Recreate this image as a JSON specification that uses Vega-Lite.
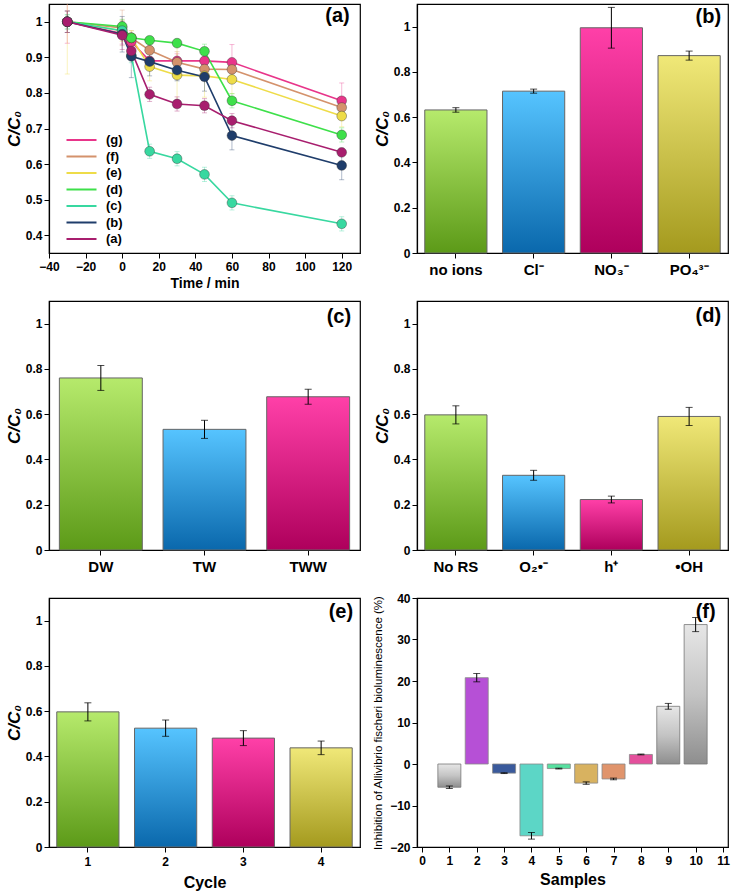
{
  "$schema": "https://vega.github.io/schema/vega-lite/v6.json",
  "padding": {"left": 4, "top": 3, "right": 2, "bottom": 2},
  "background": "white",
  "config": {
    "font": "Liberation Sans",
    "view": {"stroke": "black", "strokeWidth": 1.2},
    "style": {"cell": {"stroke": "black", "strokeWidth": 1.2}},
    "axis": {"labelFont": "Liberation Sans", "labelFontWeight": "bold", "labelFontSize": 12, "labelColor": "black", "titleFont": "Liberation Sans", "titleFontWeight": "bold", "titleColor": "black", "domainColor": "black", "domainWidth": 1.2, "tickColor": "black", "tickSize": 5, "grid": false, "labelPadding": 2, "labelFlush": false, "labelOverlap": false},
    "text": {"font": "Liberation Sans", "fontSize": 20, "fontWeight": "bold", "color": "black"}
  },
  "datasets": {
    "kin": [
      {"s": "(g)", "t": -30, "v": 1.0, "e": 0.06}, {"s": "(g)", "t": 0, "v": 0.967, "e": 0.03}, {"s": "(g)", "t": 5, "v": 0.944, "e": 0.02}, {"s": "(g)", "t": 15, "v": 0.89, "e": 0.02}, {"s": "(g)", "t": 30, "v": 0.89, "e": 0.02}, {"s": "(g)", "t": 45, "v": 0.89, "e": 0.03}, {"s": "(g)", "t": 60, "v": 0.886, "e": 0.05}, {"s": "(g)", "t": 120, "v": 0.778, "e": 0.05},
      {"s": "(f)", "t": -30, "v": 1.0, "e": 0.03}, {"s": "(f)", "t": 0, "v": 0.983, "e": 0.05}, {"s": "(f)", "t": 5, "v": 0.955, "e": 0.02}, {"s": "(f)", "t": 15, "v": 0.92, "e": 0.02}, {"s": "(f)", "t": 30, "v": 0.886, "e": 0.03}, {"s": "(f)", "t": 45, "v": 0.867, "e": 0.03}, {"s": "(f)", "t": 60, "v": 0.866, "e": 0.03}, {"s": "(f)", "t": 120, "v": 0.759, "e": 0.03},
      {"s": "(e)", "t": -30, "v": 1.0, "e": 0.147}, {"s": "(e)", "t": 0, "v": 0.975, "e": 0.03}, {"s": "(e)", "t": 5, "v": 0.955, "e": 0.02}, {"s": "(e)", "t": 15, "v": 0.874, "e": 0.04}, {"s": "(e)", "t": 30, "v": 0.85, "e": 0.08}, {"s": "(e)", "t": 45, "v": 0.848, "e": 0.06}, {"s": "(e)", "t": 60, "v": 0.838, "e": 0.04}, {"s": "(e)", "t": 120, "v": 0.735, "e": 0.03},
      {"s": "(d)", "t": -30, "v": 1.0, "e": 0.02}, {"s": "(d)", "t": 0, "v": 0.987, "e": 0.02}, {"s": "(d)", "t": 5, "v": 0.955, "e": 0.01}, {"s": "(d)", "t": 15, "v": 0.948, "e": 0.01}, {"s": "(d)", "t": 30, "v": 0.94, "e": 0.01}, {"s": "(d)", "t": 45, "v": 0.917, "e": 0.02}, {"s": "(d)", "t": 60, "v": 0.778, "e": 0.02}, {"s": "(d)", "t": 120, "v": 0.682, "e": 0.02},
      {"s": "(c)", "t": -30, "v": 1.0, "e": 0.02}, {"s": "(c)", "t": 0, "v": 0.975, "e": 0.02}, {"s": "(c)", "t": 5, "v": 0.905, "e": 0.02}, {"s": "(c)", "t": 15, "v": 0.636, "e": 0.02}, {"s": "(c)", "t": 30, "v": 0.615, "e": 0.02}, {"s": "(c)", "t": 45, "v": 0.571, "e": 0.02}, {"s": "(c)", "t": 60, "v": 0.491, "e": 0.02}, {"s": "(c)", "t": 120, "v": 0.432, "e": 0.02},
      {"s": "(b)", "t": -30, "v": 1.0, "e": 0.03}, {"s": "(b)", "t": 0, "v": 0.965, "e": 0.05}, {"s": "(b)", "t": 5, "v": 0.903, "e": 0.06}, {"s": "(b)", "t": 15, "v": 0.888, "e": 0.04}, {"s": "(b)", "t": 30, "v": 0.864, "e": 0.03}, {"s": "(b)", "t": 45, "v": 0.845, "e": 0.04}, {"s": "(b)", "t": 60, "v": 0.68, "e": 0.04}, {"s": "(b)", "t": 120, "v": 0.596, "e": 0.04},
      {"s": "(a)", "t": -30, "v": 1.0, "e": 0.03}, {"s": "(a)", "t": 0, "v": 0.962, "e": 0.04}, {"s": "(a)", "t": 5, "v": 0.918, "e": 0.02}, {"s": "(a)", "t": 15, "v": 0.796, "e": 0.02}, {"s": "(a)", "t": 30, "v": 0.769, "e": 0.02}, {"s": "(a)", "t": 45, "v": 0.764, "e": 0.02}, {"s": "(a)", "t": 60, "v": 0.722, "e": 0.02}, {"s": "(a)", "t": 120, "v": 0.633, "e": 0.01}
    ],
    "one": [{}],
    "ions": [
      {"k": "no ions", "g": 1, "v": 0.632, "e": 0.01},
      {"k": "Cl⁻", "g": 2, "v": 0.715, "e": 0.009},
      {"k": "NO₃⁻", "g": 3, "v": 0.995, "e": 0.09},
      {"k": "PO₄³⁻", "g": 4, "v": 0.872, "e": 0.02}
    ],
    "water": [
      {"k": "DW", "g": 1, "v": 0.76, "e": 0.055},
      {"k": "TW", "g": 2, "v": 0.533, "e": 0.04},
      {"k": "TWW", "g": 3, "v": 0.677, "e": 0.033}
    ],
    "scav": [
      {"k": "No RS", "g": 1, "v": 0.597, "e": 0.04},
      {"k": "O₂•⁻", "g": 2, "v": 0.33, "e": 0.022},
      {"k": "h⁺", "g": 3, "v": 0.223, "e": 0.015},
      {"k": "•OH", "g": 4, "v": 0.59, "e": 0.04}
    ],
    "cyc": [
      {"k": "1", "g": 1, "v": 0.597, "e": 0.04},
      {"k": "2", "g": 2, "v": 0.525, "e": 0.036},
      {"k": "3", "g": 3, "v": 0.481, "e": 0.033},
      {"k": "4", "g": 4, "v": 0.438, "e": 0.03}
    ],
    "tox": [
      {"n": 1, "v": -5.6, "e": 0.3, "gray": true},
      {"n": 2, "v": 20.8, "e": 1.0, "gray": false},
      {"n": 3, "v": -2.2, "e": 0.1, "gray": false},
      {"n": 4, "v": -17.3, "e": 0.8, "gray": false},
      {"n": 5, "v": -1.1, "e": 0.1, "gray": false},
      {"n": 6, "v": -4.6, "e": 0.3, "gray": false},
      {"n": 7, "v": -3.6, "e": 0.2, "gray": false},
      {"n": 8, "v": 2.3, "e": 0.1, "gray": false},
      {"n": 9, "v": 13.9, "e": 0.7, "gray": true},
      {"n": 10, "v": 33.6, "e": 1.7, "gray": true}
    ]
  },
  "columns": 2,
  "spacing": {"row": 48, "column": 57},
  "bounds": "flush",
  "resolve": {"scale": {"color": "independent"}, "legend": {"color": "independent"}},
  "concat": [
    {
      "width": 311, "height": 249,
      "view": {"stroke": "black", "strokeWidth": 1.2},
      "data": {"name": "kin"},
      "encoding": {
        "x": {"field": "t", "type": "quantitative", "scale": {"domain": [-40, 130], "nice": false}, "axis": {"values": [-40, -20, 0, 20, 40, 60, 80, 100, 120], "labelOverlap": false, "title": "Time / min", "titleFontSize": 14, "titlePadding": 4, "labelPadding": 3}},
        "y": {"field": "v", "type": "quantitative", "scale": {"domain": [0.35, 1.05], "nice": false, "zero": false}, "axis": {"values": [0.4, 0.5, 0.6, 0.7, 0.8, 0.9, 1.0], "labelOverlap": false, "format": "~g", "title": "C/C₀", "titleFontSize": 17, "titleFontStyle": "italic", "titlePadding": 2}}
      },
      "layer": [
        {"mark": {"type": "errorbar", "ticks": {"size": 5}, "opacity": 0.35, "thickness": 1, "clip": true},
          "encoding": {"yError": {"field": "e"},
            "color": {"field": "s", "type": "nominal", "scale": {"domain": ["(g)", "(f)", "(e)", "(d)", "(c)", "(b)", "(a)"], "range": ["#e8358a", "#d4926c", "#eedc48", "#3ee04a", "#38d8a0", "#1f3d6b", "#a81e6e"]},
              "legend": {"title": null, "orient": "none", "legendX": 16, "legendY": 130, "symbolType": "stroke", "symbolSize": 900, "symbolStrokeWidth": 2.2, "symbolOpacity": 1, "labelFontSize": 13, "labelFontWeight": "bold", "labelFont": "Liberation Sans", "labelColor": "black", "clipHeight": 12, "rowPadding": 3.5, "labelOffset": 8}}}},
        {"mark": {"type": "line", "strokeWidth": 1.6}, "encoding": {"color": {"field": "s", "type": "nominal"}}},
        {"mark": {"type": "point", "filled": true, "size": 95, "opacity": 1, "stroke": "#333", "strokeWidth": 0.4}, "encoding": {"color": {"field": "s", "type": "nominal"}}},
        {"transform": [{"filter": "datum.s == '(g)' && datum.t == 120"}], "mark": {"type": "text", "align": "right", "baseline": "middle", "dx": 8},
          "encoding": {"y": {"datum": 1.016}, "text": {"value": "(a)"}}}
      ]
    },
    {
      "width": 311, "height": 249,
      "view": {"stroke": "black", "strokeWidth": 1.2},
      "data": {"name": "ions"},
      "encoding": {
        "x": {"field": "k", "type": "nominal", "sort": null, "scale": {"paddingInner": 0.2, "paddingOuter": 0.1}, "axis": {"title": null, "labelAngle": 0, "labelFontSize": 15, "labelPadding": 4}},
        "y": {"field": "v", "type": "quantitative", "scale": {"domain": [0, 1.1], "nice": false}, "axis": {"values": [0, 0.2, 0.4, 0.6, 0.8, 1], "format": "~g", "title": "C/C₀", "titleFontSize": 17, "titleFontStyle": "italic", "titlePadding": 2}}
      },
      "layer": [
        {"mark": {"type": "bar", "stroke": "#666", "strokeWidth": 1},
          "encoding": {"color": {"condition": [
            {"test": "datum.g == 1", "value": {"gradient": "linear", "x1": 0, "y1": 0, "x2": 0, "y2": 1, "stops": [{"offset": 0, "color": "#b6ea6c"}, {"offset": 1, "color": "#5c9a18"}]}},
            {"test": "datum.g == 2", "value": {"gradient": "linear", "x1": 0, "y1": 0, "x2": 0, "y2": 1, "stops": [{"offset": 0, "color": "#56c4ff"}, {"offset": 1, "color": "#0a68ac"}]}},
            {"test": "datum.g == 3", "value": {"gradient": "linear", "x1": 0, "y1": 0, "x2": 0, "y2": 1, "stops": [{"offset": 0, "color": "#ff40a8"}, {"offset": 1, "color": "#ae005c"}]}}],
            "value": {"gradient": "linear", "x1": 0, "y1": 0, "x2": 0, "y2": 1, "stops": [{"offset": 0, "color": "#f0e878"}, {"offset": 1, "color": "#a49a1e"}]}}}},
        {"mark": {"type": "errorbar", "ticks": {"size": 7}, "color": "black", "thickness": 1}, "encoding": {"yError": {"field": "e"}}},
        {"transform": [{"filter": "datum.g == 4"}], "mark": {"type": "text", "align": "right", "baseline": "middle", "dx": 32},
          "encoding": {"y": {"datum": 1.044}, "text": {"value": "(b)"}}}
      ]
    },
    {
      "width": 311, "height": 249,
      "view": {"stroke": "black", "strokeWidth": 1.2},
      "data": {"name": "water"},
      "encoding": {
        "x": {"field": "k", "type": "nominal", "sort": null, "scale": {"paddingInner": 0.2, "paddingOuter": 0.1}, "axis": {"title": null, "labelAngle": 0, "labelFontSize": 15, "labelPadding": 4}},
        "y": {"field": "v", "type": "quantitative", "scale": {"domain": [0, 1.1], "nice": false}, "axis": {"values": [0, 0.2, 0.4, 0.6, 0.8, 1], "format": "~g", "title": "C/C₀", "titleFontSize": 17, "titleFontStyle": "italic", "titlePadding": 2}}
      },
      "layer": [
        {"mark": {"type": "bar", "stroke": "#666", "strokeWidth": 1},
          "encoding": {"color": {"condition": [
            {"test": "datum.g == 1", "value": {"gradient": "linear", "x1": 0, "y1": 0, "x2": 0, "y2": 1, "stops": [{"offset": 0, "color": "#b6ea6c"}, {"offset": 1, "color": "#5c9a18"}]}},
            {"test": "datum.g == 2", "value": {"gradient": "linear", "x1": 0, "y1": 0, "x2": 0, "y2": 1, "stops": [{"offset": 0, "color": "#56c4ff"}, {"offset": 1, "color": "#0a68ac"}]}}],
            "value": {"gradient": "linear", "x1": 0, "y1": 0, "x2": 0, "y2": 1, "stops": [{"offset": 0, "color": "#ff40a8"}, {"offset": 1, "color": "#ae005c"}]}}}},
        {"mark": {"type": "errorbar", "ticks": {"size": 7}, "color": "black", "thickness": 1}, "encoding": {"yError": {"field": "e"}}},
        {"transform": [{"filter": "datum.g == 3"}], "mark": {"type": "text", "align": "right", "baseline": "middle", "dx": 43},
          "encoding": {"y": {"datum": 1.03}, "text": {"value": "(c)"}}}
      ]
    },
    {
      "width": 311, "height": 249,
      "view": {"stroke": "black", "strokeWidth": 1.2},
      "data": {"name": "scav"},
      "encoding": {
        "x": {"field": "k", "type": "nominal", "sort": null, "scale": {"paddingInner": 0.2, "paddingOuter": 0.1}, "axis": {"title": null, "labelAngle": 0, "labelFontSize": 15, "labelPadding": 4}},
        "y": {"field": "v", "type": "quantitative", "scale": {"domain": [0, 1.1], "nice": false}, "axis": {"values": [0, 0.2, 0.4, 0.6, 0.8, 1], "format": "~g", "title": "C/C₀", "titleFontSize": 17, "titleFontStyle": "italic", "titlePadding": 2}}
      },
      "layer": [
        {"mark": {"type": "bar", "stroke": "#666", "strokeWidth": 1},
          "encoding": {"color": {"condition": [
            {"test": "datum.g == 1", "value": {"gradient": "linear", "x1": 0, "y1": 0, "x2": 0, "y2": 1, "stops": [{"offset": 0, "color": "#b6ea6c"}, {"offset": 1, "color": "#5c9a18"}]}},
            {"test": "datum.g == 2", "value": {"gradient": "linear", "x1": 0, "y1": 0, "x2": 0, "y2": 1, "stops": [{"offset": 0, "color": "#56c4ff"}, {"offset": 1, "color": "#0a68ac"}]}},
            {"test": "datum.g == 3", "value": {"gradient": "linear", "x1": 0, "y1": 0, "x2": 0, "y2": 1, "stops": [{"offset": 0, "color": "#ff40a8"}, {"offset": 1, "color": "#ae005c"}]}}],
            "value": {"gradient": "linear", "x1": 0, "y1": 0, "x2": 0, "y2": 1, "stops": [{"offset": 0, "color": "#f0e878"}, {"offset": 1, "color": "#a49a1e"}]}}}},
        {"mark": {"type": "errorbar", "ticks": {"size": 7}, "color": "black", "thickness": 1}, "encoding": {"yError": {"field": "e"}}},
        {"transform": [{"filter": "datum.g == 4"}], "mark": {"type": "text", "align": "right", "baseline": "middle", "dx": 32},
          "encoding": {"y": {"datum": 1.035}, "text": {"value": "(d)"}}}
      ]
    },
    {
      "width": 311, "height": 249,
      "view": {"stroke": "black", "strokeWidth": 1.2},
      "data": {"name": "cyc"},
      "encoding": {
        "x": {"field": "k", "type": "nominal", "sort": null, "scale": {"paddingInner": 0.2, "paddingOuter": 0.1}, "axis": {"title": "Cycle", "titleFontSize": 16, "titlePadding": 7, "labelAngle": 0, "labelFontSize": 12, "labelPadding": 4}},
        "y": {"field": "v", "type": "quantitative", "scale": {"domain": [0, 1.1], "nice": false}, "axis": {"values": [0, 0.2, 0.4, 0.6, 0.8, 1], "format": "~g", "title": "C/C₀", "titleFontSize": 17, "titleFontStyle": "italic", "titlePadding": 2}}
      },
      "layer": [
        {"mark": {"type": "bar", "stroke": "#666", "strokeWidth": 1},
          "encoding": {"color": {"condition": [
            {"test": "datum.g == 1", "value": {"gradient": "linear", "x1": 0, "y1": 0, "x2": 0, "y2": 1, "stops": [{"offset": 0, "color": "#b6ea6c"}, {"offset": 1, "color": "#5c9a18"}]}},
            {"test": "datum.g == 2", "value": {"gradient": "linear", "x1": 0, "y1": 0, "x2": 0, "y2": 1, "stops": [{"offset": 0, "color": "#56c4ff"}, {"offset": 1, "color": "#0a68ac"}]}},
            {"test": "datum.g == 3", "value": {"gradient": "linear", "x1": 0, "y1": 0, "x2": 0, "y2": 1, "stops": [{"offset": 0, "color": "#ff40a8"}, {"offset": 1, "color": "#ae005c"}]}}],
            "value": {"gradient": "linear", "x1": 0, "y1": 0, "x2": 0, "y2": 1, "stops": [{"offset": 0, "color": "#f0e878"}, {"offset": 1, "color": "#a49a1e"}]}}}},
        {"mark": {"type": "errorbar", "ticks": {"size": 7}, "color": "black", "thickness": 1}, "encoding": {"yError": {"field": "e"}}},
        {"transform": [{"filter": "datum.g == 4"}], "mark": {"type": "text", "align": "right", "baseline": "middle", "dx": 32},
          "encoding": {"y": {"datum": 1.04}, "text": {"value": "(e)"}}}
      ]
    },
    {
      "width": 311, "height": 249,
      "view": {"stroke": "black", "strokeWidth": 1.2},
      "data": {"name": "tox"},
      "encoding": {
        "x": {"field": "n", "type": "quantitative", "scale": {"domain": [0, 11], "nice": false}, "axis": {"values": [0, 1, 2, 3, 4, 5, 6, 7, 8, 9, 10, 11], "labelOverlap": false, "title": "Samples", "titleFontSize": 16, "titlePadding": 5, "labelPadding": 3}},
        "y": {"field": "v", "type": "quantitative", "scale": {"domain": [-20, 40], "nice": false}, "axis": {"values": [-20, -10, 0, 10, 20, 30, 40], "title": "Inhibition of Allivibrio fischeri bioluminescence (%)", "titleFontSize": 11.5, "titleFontWeight": "normal", "titlePadding": 6}}
      },
      "layer": [
        {"transform": [{"filter": "!datum.gray"}],
          "mark": {"type": "bar", "size": 23, "stroke": "#888", "strokeWidth": 0.8},
          "encoding": {"color": {"field": "n", "type": "nominal", "legend": null, "scale": {"domain": [2, 3, 4, 5, 6, 7, 8], "range": ["#b650d6", "#3a5a9c", "#5cd6c6", "#58e0a0", "#d8b260", "#e0946c", "#e4509c"]}}}},
        {"transform": [{"filter": "datum.gray"}],
          "mark": {"type": "bar", "size": 23, "stroke": "#777", "strokeWidth": 0.8,
            "color": {"gradient": "linear", "x1": 0, "y1": 0, "x2": 0, "y2": 1, "stops": [{"offset": 0, "color": "#e6e6e6"}, {"offset": 0.5, "color": "#c4c4c4"}, {"offset": 1, "color": "#8e8e8e"}]}}},
        {"data": {"name": "one"}, "mark": {"type": "rule", "color": "black", "strokeWidth": 1}, "encoding": {"y": {"datum": 0}}},
        {"mark": {"type": "errorbar", "ticks": {"size": 7}, "color": "black", "thickness": 1}, "encoding": {"yError": {"field": "e"}}},
        {"transform": [{"filter": "datum.n == 10"}], "mark": {"type": "text", "align": "right", "baseline": "middle", "dx": 20},
          "encoding": {"y": {"datum": 36.6}, "text": {"value": "(f)"}}}
      ]
    }
  ]
}
